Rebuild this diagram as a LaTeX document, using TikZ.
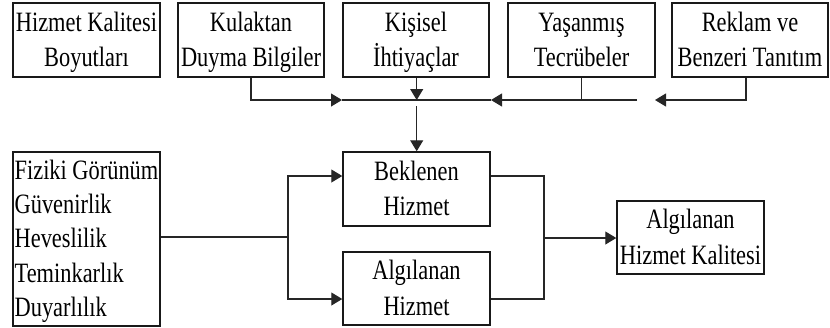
\documentclass[tikz,border=0pt]{standalone}
\usepackage{fontspec}
\setmainfont{Liberation Serif}[FakeStretch=0.8]
\usetikzlibrary{arrows.meta}
% every text line gets the same height and depth, so lines sit alike in all boxes
\newcommand\rowtxt[1]{\raisebox{0pt}[19pt][1.5pt]{#1}}
\tikzset{
  box/.style={draw=black!90, line width=1.5pt, minimum width=147pt, minimum height=74pt,
    inner sep=0pt, align=center, font=\fontsize{28pt}{35.5pt}\selectfont},
  conn/.style={draw=black!85, line width=1.2pt},
  tip/.style={-{Triangle[length=11pt,width=13pt]}},
}
\begin{document}
\begin{tikzpicture}[x=1pt,y=-1pt]
\useasboundingbox (0,0) rectangle (830,327);

% sources of expectation
\node[box] (dim) at (86.5,40) {\rowtxt{Hizmet Kalitesi}\\\rowtxt{Boyutları}};
\node[box, minimum width=146pt] (wom) at (251,40) {\rowtxt{Kulaktan}\\\rowtxt{Duyma Bilgiler}};
\node[box, minimum width=146pt] (need) at (416,40) {\rowtxt{Kişisel}\\\rowtxt{İhtiyaçlar}};
\node[box] (exp) at (581.5,40) {\rowtxt{Yaşanmış}\\\rowtxt{Tecrübeler}};
\node[box, minimum width=156pt] (adv) at (750,40) {\rowtxt{Reklam ve}\\\rowtxt{Benzeri Tanıtım}};

% dimensions
\node[box, minimum height=174pt, align=left,
      font=\fontsize{28pt}{34.3pt}\selectfont] (fiz) at (86.5,239)
  {\rowtxt{Fiziki Görünüm}\\\rowtxt{Güvenirlik}\\\rowtxt{Heveslilik}\\\rowtxt{Teminkarlık}\\\rowtxt{Duyarlılık}};

% expected / perceived service
\node[box] (expd) at (416.5,189) {\rowtxt{Beklenen}\\\rowtxt{Hizmet}};
\node[box, minimum height=73pt] (perc) at (416.5,288.5) {\rowtxt{Algılanan}\\\rowtxt{Hizmet}};

% result
\node[box, minimum height=73pt] (sq) at (690.5,237.5) {\rowtxt{Algılanan}\\\rowtxt{Hizmet Kalitesi}};

% bus points
\coordinate (hl) at (342,100);
\coordinate (jn) at (416.7,100);
\coordinate (hr) at (491,100);
\coordinate (he) at (637,100);
\coordinate (ht) at (655,100);
\coordinate (jd) at (416.7,106);
\coordinate (fb) at (288,237);
\coordinate (mb) at (544,238);

% top collector line
\draw[conn,tip] (wom.south) |- (hl);
\draw[conn] (hl) -- (hr);
\draw[conn,tip] (he) -- (hr);
\draw[conn] (exp.south) -- (exp.south |- he);
\draw[conn,tip] ([xshift=-4pt]adv.south) |- (ht);
\draw[conn,tip] (need.south -| jn) -- (jn);
\draw[conn,tip] (jd) -- (expd.north -| jd);

% dimensions feed both services
\draw[conn] (fiz.east |- fb) -- (fb);
\draw[conn,tip] (fb) |- ([yshift=13pt]expd.west);
\draw[conn,tip] (fb) |- ([yshift=-10.5pt]perc.west);

% services combine into perceived quality
\draw[conn] ([yshift=13pt]expd.east) -| (mb);
\draw[conn] ([yshift=-10.5pt]perc.east) -| (mb);
\draw[conn,tip] (mb) -- (sq.west |- mb);
\end{tikzpicture}
\end{document}
